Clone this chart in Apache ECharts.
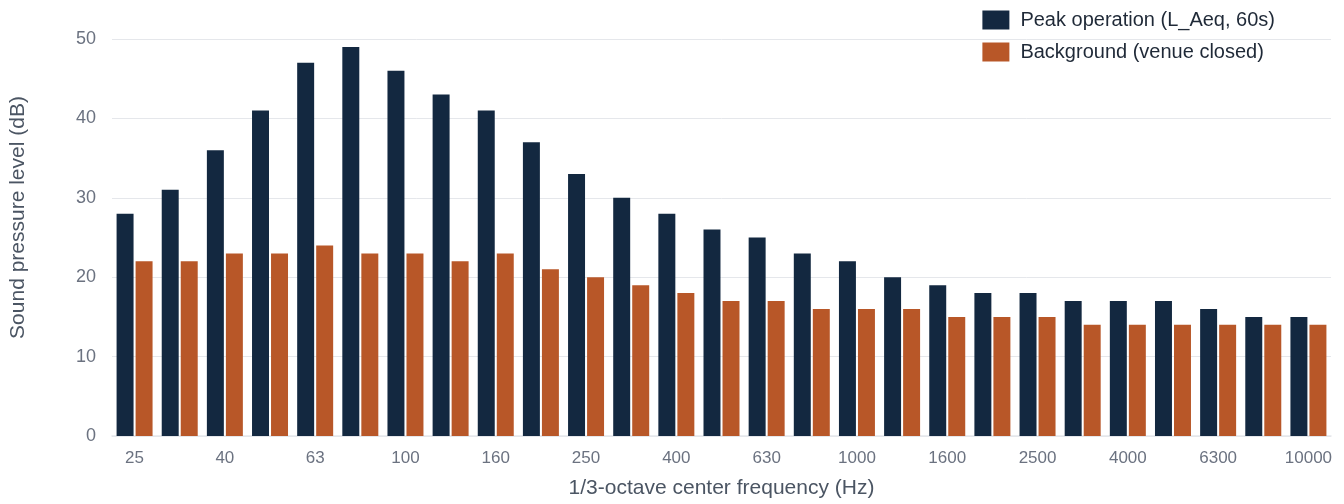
<!DOCTYPE html>
<html>
<head>
<meta charset="utf-8">
<script src="https://cdn.jsdelivr.net/npm/echarts@6/dist/echarts.min.js"></script>
<style>
    html, body { margin: 0; padding: 0; background: #fff; }
    #chart { width: 1344px; height: 504px; }
</style>
</head>
<body>
<div id="chart"></div>
<script>
    // 1/3-octave bands
    const bands = ['25', '31.5', '40', '50', '63', '80', '100', '125', '160', '200', '250', '315', '400', '500',
        '630', '800', '1000', '1250', '1600', '2000', '2500', '3150', '4000', '5000', '6300', '8000', '10000'];
    const peakLevels = [28, 31, 36, 41, 47, 49, 46, 43, 41, 37, 33, 30, 28, 26, 25, 23, 22, 20, 19, 18, 18, 17, 17, 17, 16, 15, 15];
    const backgroundLevels = [22, 22, 23, 23, 24, 23, 23, 22, 23, 21, 20, 19, 18, 17, 17, 16, 16, 16, 15, 15, 15, 14, 14, 14, 14, 14, 14];
    const seriesNames = ['Peak operation (L_Aeq, 60s)', 'Background (venue closed)'];

    const font = 'Liberation Sans, Arial, Helvetica, sans-serif';
    const chart = echarts.init(document.getElementById('chart'));

    const options = {
        backgroundColor: '#ffffff',
        textStyle: { fontFamily: font },
        animation: false,
        legend: {
            orient: 'vertical',
            top: 5,
            right: 64,
            itemWidth: 27,
            itemHeight: 19,
            itemGap: 12,
            icon: 'rect',
            textStyle: { color: '#1f2937', fontSize: 20, fontFamily: font, padding: [0, 0, 0, 6] },
            data: seriesNames
        },
        grid: {
            left: 109,
            right: 13,
            top: 39,
            bottom: 67
        },
        xAxis: {
            type: 'category',
            data: bands,
            name: '1/3-octave center frequency (Hz)',
            nameLocation: 'middle',
            nameGap: 42,
            nameTextStyle: { color: '#4b5563', fontSize: 21 },
            axisTick: { show: false },
            axisLine: { lineStyle: { color: '#e5e7eb', width: 1.5 } },
            axisLabel: { color: '#6b7280', fontSize: 17, margin: 14, interval: 1 }
        },
        yAxis: {
            type: 'value',
            min: 0,
            max: 50,
            interval: 10,
            name: 'Sound pressure level (dB)',
            nameLocation: 'middle',
            nameGap: 83,
            // shifts the title a little above the plot's middle
            nameTextStyle: { color: '#4b5563', fontSize: 21, padding: [0, 0, 0, 40] },
            axisLine: { show: false },
            axisTick: { show: false },
            axisLabel: { color: '#6b7280', fontSize: 18, margin: 16 },
            splitLine: { lineStyle: { color: '#e5e7eb' } }
        },
        series: [
            {
                name: seriesNames[0],
                type: 'bar',
                data: peakLevels,
                barWidth: '37.6%',
                barGap: '12%',
                itemStyle: { color: '#132840' }
            },
            {
                name: seriesNames[1],
                type: 'bar',
                data: backgroundLevels,
                barWidth: '37.6%',
                barGap: '12%',
                itemStyle: { color: '#b85728' }
            }
        ]
    };
    chart.setOption(options);
</script>
</body>
</html>
